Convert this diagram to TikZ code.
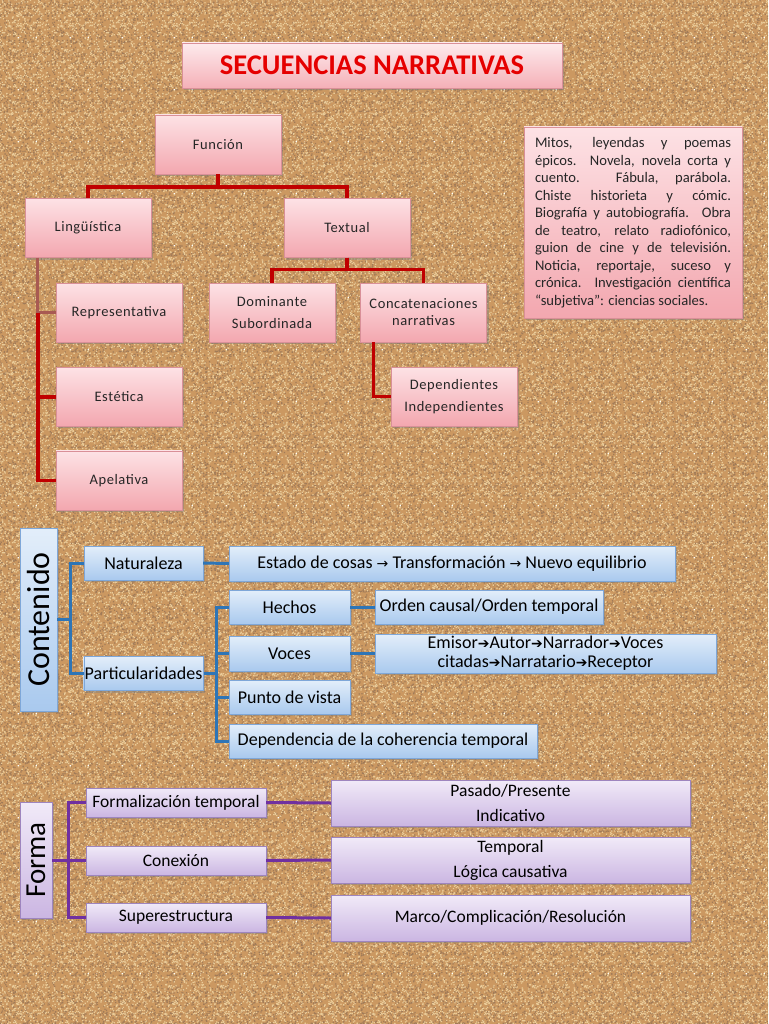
\documentclass[tikz,border=0pt]{standalone}
\usepackage{fontspec}
\setmainfont{Carlito}
\newfontfamily\symfont{DejaVu Sans}
\usetikzlibrary{positioning, shadows, patterns}

\definecolor{cork}{HTML}{CB9861}
\definecolor{corkdark}{HTML}{8A5A2E}
\definecolor{corklight}{HTML}{EACB98}
\definecolor{redline}{HTML}{C00000}
\definecolor{mutedred}{HTML}{A85A52}
\definecolor{blueline}{HTML}{2E75B6}
\definecolor{purpleline}{HTML}{7030A0}
\definecolor{pinktop}{HTML}{FDE2E5}
\definecolor{pinkbot}{HTML}{F3A7AF}
\definecolor{pinkedge}{HTML}{D99098}
\definecolor{bluetop}{HTML}{E3EEFA}
\definecolor{bluebot}{HTML}{A9C9EE}
\definecolor{blueedge}{HTML}{7FA7D8}
\definecolor{lilactop}{HTML}{F1EAF8}
\definecolor{lilacbot}{HTML}{CBB6E2}
\definecolor{lilacedge}{HTML}{9E85BE}

% cork grain tiles
\pgfmathsetseed{11}
\pgfdeclarepatternformonly{corkgrainA}{\pgfpointorigin}{\pgfqpoint{48pt}{48pt}}{\pgfqpoint{48pt}{48pt}}{
  \foreach \i in {1,...,260}{
    \pgfmathsetmacro\gx{47*rnd}\pgfmathsetmacro\gy{47*rnd}
    \pgfpathrectangle{\pgfpoint{\gx pt}{\gy pt}}{\pgfpoint{1.3pt}{1.3pt}}\pgfusepath{fill}}}
\pgfdeclarepatternformonly{corkgrainB}{\pgfpointorigin}{\pgfqpoint{52pt}{52pt}}{\pgfqpoint{52pt}{52pt}}{
  \foreach \i in {1,...,300}{
    \pgfmathsetmacro\gx{51*rnd}\pgfmathsetmacro\gy{51*rnd}
    \pgfpathrectangle{\pgfpoint{\gx pt}{\gy pt}}{\pgfpoint{1.3pt}{1.3pt}}\pgfusepath{fill}}}

\newcommand{\rarr}{{\symfont\fontsize{14}{19}\selectfont →}}
\newcommand{\harr}{{\symfont\fontsize{14}{19}\selectfont ➔}}

\begin{document}
\begin{tikzpicture}[
    x=1pt, y=-1pt,
    shade/.style={drop shadow={shadow xshift=2pt, shadow yshift=-2pt, opacity=0.45}},
    pinkbox/.style={rectangle, draw=pinkedge, top color=pinktop, bottom color=pinkbot, shade, text=black!85,
        minimum width=126pt, minimum height=59pt, align=center,
        font=\fontsize{14.5}{#1}\selectfont\addfontfeature{LetterSpace=4}},
    pinkbox/.default=22,
    bluebox/.style={rectangle, draw=blueedge, top color=bluetop, bottom color=bluebot, shade,
        minimum height=34pt, align=center, inner sep=1pt, font=\fontsize{18}{19}\selectfont},
    lilacbox/.style={rectangle, draw=lilacedge, top color=lilactop, bottom color=lilacbot, shade,
        minimum height=#1, align=center, inner sep=1pt, font=\fontsize{17.5}{25}\selectfont},
    redlink/.style={draw=redline, line width=3.5pt},
    mutedlink/.style={draw=mutedred, line width=3pt},
    bluelink/.style={draw=blueline, line width=3pt},
    purplelink/.style={draw=purpleline, line width=3pt}
]
% background (cork)
\fill[cork] (0,0) rectangle (768,1024);
\fill[pattern=corkgrainA, pattern color=corkdark!80] (0,0) rectangle (768,1024);
\fill[pattern=corkgrainB, pattern color=corklight] (0,0) rectangle (768,1024);
\useasboundingbox (0,0) rectangle (768,1024);

% title
\node (title) [pinkbox, minimum width=380pt, minimum height=45pt, top color=pinktop!70!white, bottom color=pinkbot!85!pinktop,
    font=\fontsize{28.5}{30}\selectfont\bfseries, text=red!90!black] at (372,65.5) {SECUENCIAS NARRATIVAS};

% funcion tree
\node (funcion) [pinkbox] at (218,144.5) {Función};
\node (linguistica) [pinkbox] at (88,228) {Lingüística};
\node (textual) [pinkbox] at (347,228) {Textual};
\node (representativa) [pinkbox] at (119,312.5) {Representativa};
\node (estetica) [pinkbox, below=25pt of representativa] {Estética};
\node (apelativa) [pinkbox, below=24pt of estetica] {Apelativa};
\node (dominante) [pinkbox] at (272,312.5) {Dominante\\Subordinada};
\node (concatenaciones) [pinkbox=17] at (423.5,312.5) {Concatenaciones\\narrativas};
\node (dependientes) [pinkbox] at (454,396.5) {Dependientes\\Independientes};

\draw[redlink] (funcion.south) -- ++(0,13) -| (linguistica.north);
\draw[redlink] (funcion.south) -- ++(0,13) -| (textual.north);
\draw[mutedlink] ([xshift=13pt]linguistica.south west) |- (representativa.west);
\coordinate (lj) at ([xshift=13pt]linguistica.south west |- representativa.west);
\draw[redlink] (lj) |- (estetica.west);
\draw[redlink] (lj) |- (apelativa.west);
\draw[redlink] (textual.south) -- ++(0,12) -| (dominante.north);
\draw[redlink] (textual.south) -- ++(0,12) -| (concatenaciones.north);
\draw[redlink] ([xshift=13pt]concatenaciones.south west) |- (dependientes.west);

% generos
\node (generos) [pinkbox, minimum width=218pt, minimum height=191pt, text width=196pt, inner xsep=11pt, align=justify,
    font=\fontsize{14.6}{17.5}\selectfont] at (633,222.5) {Mitos, leyendas y poemas\linebreak
    épicos. Novela, novela corta y\linebreak
    cuento. Fábula, parábola.\linebreak
    Chiste historieta y cómic.\linebreak
    Biografía y autobiografía. Obra\linebreak
    de teatro, relato radiofónico,\linebreak
    guion de cine y de televisión.\linebreak
    Noticia, reportaje, suceso y\linebreak
    crónica. Investigación científica\linebreak
    “subjetiva”: ciencias sociales.};

% contenido
\node (contenido) [bluebox, rotate=90, minimum width=183pt, minimum height=37pt,
    font=\fontsize{32}{34}\selectfont] at (38.5,619.5) {Contenido};
\node (naturaleza) [bluebox, minimum width=119pt] at (143.5,563) {Naturaleza};
\node (estado) [bluebox, minimum width=446pt, minimum height=35pt] at (452,563.5)
    {Estado de cosas \rarr{} Transformación \rarr{} Nuevo equilibrio};
\node (particularidades) [bluebox, minimum width=119pt] at (143.5,673.5) {Particularidades};
\node (hechos) [bluebox, minimum width=121pt] at (289.5,607) {Hechos};
\node (orden) [bluebox, minimum width=228pt] at (489,607) {Orden causal/Orden temporal};
\node (voces) [bluebox, minimum width=121pt, minimum height=35pt] at (289.5,653.5) {Voces};
\node (emisor) [bluebox, minimum width=341pt, minimum height=39pt] at (545.5,653.5)
    {Emisor\harr{}Autor\harr{}Narrador\harr{}Voces\\
    citadas\harr{}Narratario\harr{}Receptor};
\node (punto) [bluebox, minimum width=121pt] at (289.5,697) {Punto de vista};
\node (dependencia) [bluebox, minimum width=308pt] at (383,741) {Dependencia de la coherencia temporal};

\draw[bluelink] (contenido.south) -- ++(13,0) |- (naturaleza.west);
\draw[bluelink] (contenido.south) -- ++(13,0) |- (particularidades.west);
\draw[bluelink] (naturaleza.east) -- (estado.west);
\draw[bluelink] (particularidades.east) -- ++(13,0) coordinate (pj);
\draw[bluelink] (pj) |- (hechos.west);
\draw[bluelink] (pj) |- (voces.west);
\draw[bluelink] (pj) |- (punto.west);
\draw[bluelink] (pj) |- (dependencia.west);
\draw[bluelink] (hechos.east) -- (orden.west);
\draw[bluelink] (voces.east) -- (emisor.west);

% forma
\node (forma) [lilacbox=32pt, rotate=90, minimum width=116pt,
    font=\fontsize{29}{30}\selectfont] at (36,860) {Forma};
\node (formalizacion) [lilacbox=29pt, minimum width=180pt] at (176,802.5) {Formalización temporal};
\node (pasado) [lilacbox=46pt, minimum width=359pt] at (510.5,803) {Pasado/Presente\\Indicativo};
\node (conexion) [lilacbox=29pt, minimum width=180pt] at (176,860.5) {Conexión};
\node (temporal) [lilacbox=46pt, minimum width=359pt] at (510.5,860) {Temporal\\Lógica causativa};
\node (superestructura) [lilacbox=29pt, minimum width=180pt] at (176,917.5) {Superestructura};
\node (marco) [lilacbox=46pt, minimum width=359pt] at (510.5,918) {Marco/Complicación/Resolución};

\draw[purplelink] (forma.south) -- ++(16,0) |- (formalizacion.west);
\draw[purplelink] (forma.south) -- ++(16,0) |- (conexion.west);
\draw[purplelink] (forma.south) -- ++(16,0) |- (superestructura.west);
\draw[purplelink] (formalizacion.east) -- (pasado.west);
\draw[purplelink] (conexion.east) -- (temporal.west);
\draw[purplelink] (superestructura.east) -- (marco.west);
\end{tikzpicture}
\end{document}
